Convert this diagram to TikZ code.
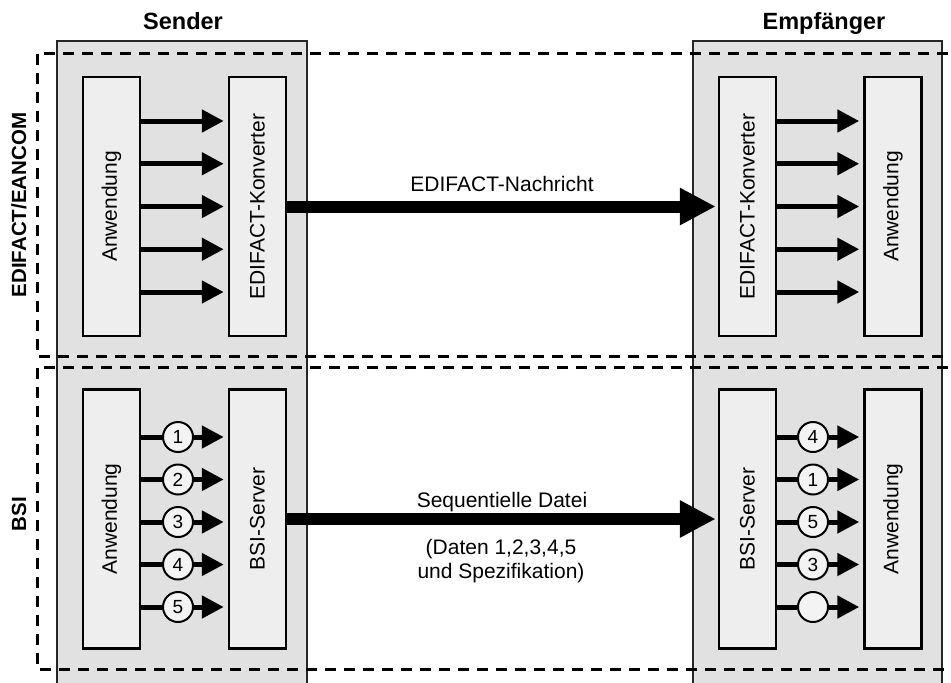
\documentclass[tikz,border=0pt]{standalone}
\usepackage{fontspec}
\setmainfont{Liberation Sans}
\usetikzlibrary{arrows.meta}
\definecolor{laneGray}{HTML}{E1E1E1}
\definecolor{boxGray}{HTML}{EEEEEE}
\definecolor{ballGray}{HTML}{F3F3F3}
\definecolor{laneEdge}{HTML}{262626}

\begin{document}
\begin{tikzpicture}[x=1pt,y=-1pt,
  lane/.style={fill=laneGray,draw=laneEdge,line width=2pt},
  zone/.style={draw=black,line width=3pt,dash pattern=on 11pt off 8pt},
  unit/.style={draw=black,fill=boxGray,line width=2.5pt,minimum width=57pt,
    minimum height=259pt,inner sep=0pt,font=\fontsize{21}{25}\selectfont},
  wire/.style={draw=black,line width=5pt},
  flow/.style={wire,-{Triangle[length=22pt,width=22pt]},shorten >=4pt},
  bigflow/.style={draw=black,line width=12pt,-{Triangle[length=36pt,width=35pt]},shorten >=2pt},
  ball/.style={circle,draw=black,fill=ballGray,line width=2pt,minimum size=30pt,
    inner sep=0pt,font=\fontsize{19}{22}\selectfont},
  txt/.style={font=\fontsize{21}{24}\selectfont,inner sep=0pt},
  head/.style={font=\bfseries\fontsize{23.5}{28}\selectfont,inner sep=0pt},
  side/.style={font=\bfseries\fontsize{20.5}{24}\selectfont,inner sep=0pt,rotate=90}
]
\useasboundingbox (0,0) rectangle (951,683);

% sender and receiver lanes
\draw[lane] (57,41) rectangle (307,695);
\draw[lane] (693,41) rectangle (942,695);

% protocol zones
\draw[zone] (948,53) -- (37,53) -- (37,356) -- (948,356);
\draw[zone] (948,367) -- (37,367) -- (37,669) -- (948,669);

% headings
\node[head,anchor=base] (hs) at (183,29) {Sender};
\node[head,anchor=base] (he) at (824,29) {Empfänger};
\node[side] (ze) at (19,205) {EDIFACT/EANCOM};
\node[side] (zb) at (19,514) {BSI};

% EDIFACT zone
\node[unit] (ea) at (111.5,206.5) {\rotatebox{90}{Anwendung}};
\node[unit] (ek) at (257.5,206.5) {\rotatebox{90}{EDIFACT-Konverter}};
\node[unit] (rk) at (747.5,206.5) {\rotatebox{90}{EDIFACT-Konverter}};
\node[unit] (ra) at (893,206.5) {\rotatebox{90}{Anwendung}};
\foreach \y in {121,163.75,206.5,249.25,292} {
  \draw[flow] (ea.east |- 0,\y) -- (ek.west |- 0,\y);
  \draw[flow] (rk.east |- 0,\y) -- (ra.west |- 0,\y);
}
\draw[bigflow] (ek.east) -- (rk.west);
\node[txt,anchor=base] (mt) at (502,191) {EDIFACT-Nachricht};

% BSI zone
\node[unit] (ba) at (111.5,519) {\rotatebox{90}{Anwendung}};
\node[unit] (bs) at (257.5,519) {\rotatebox{90}{BSI-Server}};
\node[unit] (rs) at (747.5,519) {\rotatebox{90}{BSI-Server}};
\node[unit] (rb) at (893,519) {\rotatebox{90}{Anwendung}};
\foreach \y/\t [count=\i] in {437/1,479.5/2,522/3,564.5/4,607/5} {
  \node[ball] (sb\i) at (178,\y) {\t};
  \draw[wire] (ba.east |- sb\i) -- (sb\i);
  \draw[flow] (sb\i) -- (bs.west |- sb\i);
}
\foreach \y/\t [count=\i] in {437/4,479.5/1,522/5,564.5/3,607/} {
  \node[ball] (eb\i) at (813,\y) {\t};
  \draw[wire] (rs.east |- eb\i) -- (eb\i);
  \draw[flow] (eb\i) -- (rb.west |- eb\i);
}
\draw[bigflow] (bs.east) -- (rs.west);
\node[txt,anchor=base] (st) at (502,507) {Sequentielle Datei};
\node[txt,anchor=base,align=center] (sd) at (501,578) {(Daten 1,2,3,4,5\\und Spezifikation)};
\end{tikzpicture}
\end{document}
